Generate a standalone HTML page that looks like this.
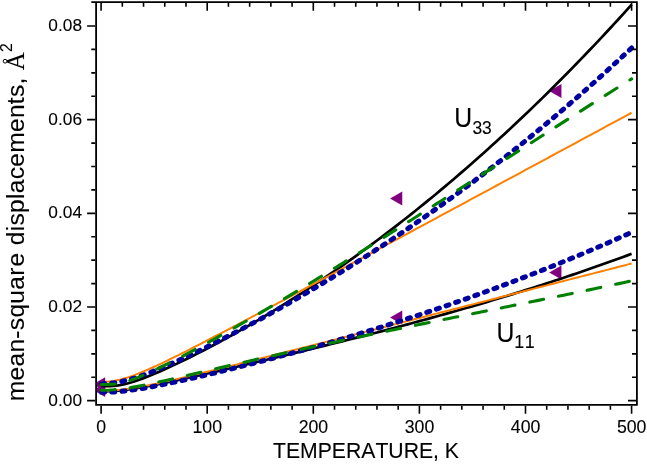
<!DOCTYPE html>
<html><head><meta charset="utf-8"><title>chart</title>
<style>html,body{margin:0;padding:0;background:#fff}svg{display:block;will-change:transform}text{font-kerning:none}</style></head>
<body>
<svg width="647" height="464" viewBox="0 0 647 464">
<rect width="647" height="464" fill="#fff"/>
<defs><clipPath id="c"><rect x="96.1" y="2.2" width="540.8" height="402.7"/></clipPath></defs>
<g clip-path="url(#c)" fill="none">
<path d="M93.00 384.26 L105.20 377.26 L105.20 391.26Z" fill="#800080"/>
<path d="M93.00 390.11 L105.20 383.11 L105.20 397.11Z" fill="#800080"/>
<path d="M390.08 198.58 L402.28 191.58 L402.28 205.58Z" fill="#800080"/>
<path d="M390.08 317.48 L402.28 310.48 L402.28 324.48Z" fill="#800080"/>
<path d="M549.23 91.10 L561.43 84.10 L561.43 98.10Z" fill="#800080"/>
<path d="M549.23 272.52 L561.43 265.52 L561.43 279.52Z" fill="#800080"/>
<path d="M101.10 386.09 L105.34 386.08 L109.59 386.04 L113.83 385.88 L118.08 385.45 L122.32 384.72 L126.56 383.73 L130.81 382.54 L135.05 381.19 L139.30 379.71 L143.54 378.14 L147.78 376.48 L152.03 374.76 L156.27 372.97 L160.52 371.14 L164.76 369.25 L169.00 367.33 L173.25 365.36 L177.49 363.37 L181.74 361.33 L185.98 359.27 L190.22 357.18 L194.47 355.05 L198.71 352.90 L202.96 350.72 L207.20 348.51 L211.44 346.28 L215.69 344.02 L219.93 341.74 L224.18 339.43 L228.42 337.10 L232.66 334.74 L236.91 332.36 L241.15 329.95 L245.40 327.52 L249.64 325.07 L253.88 322.59 L258.13 320.09 L262.37 317.56 L266.62 315.02 L270.86 312.44 L275.10 309.85 L279.35 307.23 L283.59 304.59 L287.84 301.92 L292.08 299.23 L296.32 296.52 L300.57 293.78 L304.81 291.02 L309.06 288.24 L313.30 285.43 L317.54 282.60 L321.79 279.75 L326.03 276.87 L330.28 273.97 L334.52 271.05 L338.76 268.10 L343.01 265.13 L347.25 262.13 L351.50 259.12 L355.74 256.07 L359.98 253.01 L364.23 249.91 L368.47 246.80 L372.72 243.66 L376.96 240.50 L381.20 237.31 L385.45 234.10 L389.69 230.87 L393.94 227.61 L398.18 224.33 L402.42 221.02 L406.67 217.69 L410.91 214.33 L415.16 210.95 L419.40 207.54 L423.64 204.11 L427.89 200.66 L432.13 197.18 L436.38 193.67 L440.62 190.14 L444.86 186.59 L449.11 183.01 L453.35 179.41 L457.60 175.78 L461.84 172.13 L466.08 168.45 L470.33 164.74 L474.57 161.01 L478.82 157.26 L483.06 153.48 L487.30 149.67 L491.55 145.84 L495.79 141.98 L500.04 138.10 L504.28 134.19 L508.52 130.26 L512.77 126.30 L517.01 122.31 L521.26 118.30 L525.50 114.27 L529.74 110.20 L533.99 106.11 L538.23 102.00 L542.48 97.86 L546.72 93.69 L550.96 89.49 L555.21 85.27 L559.45 81.03 L563.70 76.75 L567.94 72.45 L572.18 68.13 L576.43 63.77 L580.67 59.39 L584.92 54.98 L589.16 50.55 L593.40 46.09 L597.65 41.60 L601.89 37.09 L606.14 32.54 L610.38 27.98 L614.62 23.38 L618.87 18.76 L623.11 14.10 L627.36 9.43 L631.60 4.72" stroke="#000" stroke-width="2.7" />
<path d="M101.10 391.38 L105.34 391.33 L109.59 391.19 L113.83 390.95 L118.08 390.62 L122.32 390.20 L126.56 389.69 L130.81 389.11 L135.05 388.46 L139.30 387.76 L143.54 387.02 L147.78 386.23 L152.03 385.42 L156.27 384.59 L160.52 383.73 L164.76 382.86 L169.00 381.97 L173.25 381.07 L177.49 380.15 L181.74 379.23 L185.98 378.30 L190.22 377.36 L194.47 376.42 L198.71 375.47 L202.96 374.51 L207.20 373.55 L211.44 372.59 L215.69 371.62 L219.93 370.65 L224.18 369.68 L228.42 368.70 L232.66 367.72 L236.91 366.73 L241.15 365.74 L245.40 364.75 L249.64 363.76 L253.88 362.76 L258.13 361.76 L262.37 360.76 L266.62 359.76 L270.86 358.75 L275.10 357.74 L279.35 356.72 L283.59 355.71 L287.84 354.69 L292.08 353.67 L296.32 352.64 L300.57 351.61 L304.81 350.58 L309.06 349.54 L313.30 348.50 L317.54 347.46 L321.79 346.42 L326.03 345.37 L330.28 344.31 L334.52 343.25 L338.76 342.19 L343.01 341.13 L347.25 340.06 L351.50 338.99 L355.74 337.91 L359.98 336.83 L364.23 335.74 L368.47 334.65 L372.72 333.55 L376.96 332.45 L381.20 331.35 L385.45 330.24 L389.69 329.12 L393.94 328.00 L398.18 326.88 L402.42 325.74 L406.67 324.61 L410.91 323.47 L415.16 322.32 L419.40 321.16 L423.64 320.01 L427.89 318.84 L432.13 317.67 L436.38 316.49 L440.62 315.31 L444.86 314.12 L449.11 312.92 L453.35 311.72 L457.60 310.51 L461.84 309.29 L466.08 308.07 L470.33 306.83 L474.57 305.60 L478.82 304.35 L483.06 303.10 L487.30 301.84 L491.55 300.57 L495.79 299.30 L500.04 298.01 L504.28 296.72 L508.52 295.42 L512.77 294.12 L517.01 292.80 L521.26 291.48 L525.50 290.14 L529.74 288.80 L533.99 287.45 L538.23 286.10 L542.48 284.73 L546.72 283.35 L550.96 281.97 L555.21 280.57 L559.45 279.17 L563.70 277.76 L567.94 276.34 L572.18 274.90 L576.43 273.46 L580.67 272.01 L584.92 270.55 L589.16 269.08 L593.40 267.59 L597.65 266.10 L601.89 264.60 L606.14 263.09 L610.38 261.56 L614.62 260.03 L618.87 258.48 L623.11 256.93 L627.36 255.36 L631.60 253.78" stroke="#000" stroke-width="2.7" />
<path d="M101.10 381.96 L105.34 381.85 L109.59 381.50 L113.83 380.91 L118.08 380.10 L122.32 379.06 L126.56 377.83 L130.81 376.43 L135.05 374.89 L139.30 373.23 L143.54 371.48 L147.78 369.65 L152.03 367.76 L156.27 365.81 L160.52 363.82 L164.76 361.80 L169.00 359.75 L173.25 357.66 L177.49 355.56 L181.74 353.44 L185.98 351.30 L190.22 349.15 L194.47 346.98 L198.71 344.80 L202.96 342.62 L207.20 340.42 L211.44 338.22 L215.69 336.01 L219.93 333.79 L224.18 331.57 L228.42 329.34 L232.66 327.11 L236.91 324.87 L241.15 322.63 L245.40 320.39 L249.64 318.14 L253.88 315.90 L258.13 313.64 L262.37 311.39 L266.62 309.13 L270.86 306.87 L275.10 304.61 L279.35 302.35 L283.59 300.09 L287.84 297.82 L292.08 295.56 L296.32 293.29 L300.57 291.02 L304.81 288.75 L309.06 286.47 L313.30 284.20 L317.54 281.93 L321.79 279.65 L326.03 277.38 L330.28 275.10 L334.52 272.82 L338.76 270.55 L343.01 268.27 L347.25 265.99 L351.50 263.71 L355.74 261.43 L359.98 259.15 L364.23 256.87 L368.47 254.58 L372.72 252.30 L376.96 250.02 L381.20 247.74 L385.45 245.45 L389.69 243.17 L393.94 240.89 L398.18 238.60 L402.42 236.32 L406.67 234.03 L410.91 231.75 L415.16 229.46 L419.40 227.18 L423.64 224.89 L427.89 222.60 L432.13 220.32 L436.38 218.03 L440.62 215.74 L444.86 213.46 L449.11 211.17 L453.35 208.88 L457.60 206.59 L461.84 204.31 L466.08 202.02 L470.33 199.73 L474.57 197.44 L478.82 195.16 L483.06 192.87 L487.30 190.58 L491.55 188.29 L495.79 186.00 L500.04 183.71 L504.28 181.43 L508.52 179.14 L512.77 176.85 L517.01 174.56 L521.26 172.27 L525.50 169.98 L529.74 167.69 L533.99 165.40 L538.23 163.12 L542.48 160.83 L546.72 158.54 L550.96 156.25 L555.21 153.96 L559.45 151.67 L563.70 149.38 L567.94 147.09 L572.18 144.80 L576.43 142.51 L580.67 140.22 L584.92 137.94 L589.16 135.65 L593.40 133.36 L597.65 131.07 L601.89 128.78 L606.14 126.49 L610.38 124.20 L614.62 121.91 L618.87 119.62 L623.11 117.33 L627.36 115.04 L631.60 112.75" stroke="#ff8000" stroke-width="2.0" />
<path d="M101.10 390.93 L105.34 390.88 L109.59 390.72 L113.83 390.47 L118.08 390.11 L122.32 389.66 L126.56 389.12 L130.81 388.49 L135.05 387.80 L139.30 387.05 L143.54 386.25 L147.78 385.42 L152.03 384.55 L156.27 383.65 L160.52 382.73 L164.76 381.78 L169.00 380.83 L173.25 379.85 L177.49 378.87 L181.74 377.87 L185.98 376.87 L190.22 375.86 L194.47 374.84 L198.71 373.81 L202.96 372.78 L207.20 371.75 L211.44 370.71 L215.69 369.66 L219.93 368.62 L224.18 367.57 L228.42 366.51 L232.66 365.46 L236.91 364.40 L241.15 363.34 L245.40 362.28 L249.64 361.21 L253.88 360.15 L258.13 359.08 L262.37 358.01 L266.62 356.94 L270.86 355.87 L275.10 354.80 L279.35 353.72 L283.59 352.65 L287.84 351.57 L292.08 350.50 L296.32 349.42 L300.57 348.34 L304.81 347.27 L309.06 346.19 L313.30 345.11 L317.54 344.03 L321.79 342.95 L326.03 341.87 L330.28 340.79 L334.52 339.70 L338.76 338.62 L343.01 337.54 L347.25 336.46 L351.50 335.37 L355.74 334.29 L359.98 333.21 L364.23 332.12 L368.47 331.04 L372.72 329.95 L376.96 328.87 L381.20 327.78 L385.45 326.70 L389.69 325.61 L393.94 324.52 L398.18 323.44 L402.42 322.35 L406.67 321.27 L410.91 320.18 L415.16 319.09 L419.40 318.00 L423.64 316.92 L427.89 315.83 L432.13 314.74 L436.38 313.65 L440.62 312.57 L444.86 311.48 L449.11 310.39 L453.35 309.30 L457.60 308.22 L461.84 307.13 L466.08 306.04 L470.33 304.95 L474.57 303.86 L478.82 302.77 L483.06 301.69 L487.30 300.60 L491.55 299.51 L495.79 298.42 L500.04 297.33 L504.28 296.24 L508.52 295.15 L512.77 294.06 L517.01 292.97 L521.26 291.89 L525.50 290.80 L529.74 289.71 L533.99 288.62 L538.23 287.53 L542.48 286.44 L546.72 285.35 L550.96 284.26 L555.21 283.17 L559.45 282.08 L563.70 280.99 L567.94 279.90 L572.18 278.81 L576.43 277.72 L580.67 276.63 L584.92 275.54 L589.16 274.45 L593.40 273.37 L597.65 272.28 L601.89 271.19 L606.14 270.10 L610.38 269.01 L614.62 267.92 L618.87 266.83 L623.11 265.74 L627.36 264.65 L631.60 263.56" stroke="#ff8000" stroke-width="2.0" />
<path d="M101.10 383.68 L105.34 383.59 L109.59 383.31 L113.83 382.84 L118.08 382.18 L122.32 381.34 L126.56 380.33 L130.81 379.17 L135.05 377.89 L139.30 376.49 L143.54 374.99 L147.78 373.41 L152.03 371.77 L156.27 370.07 L160.52 368.31 L164.76 366.51 L169.00 364.66 L173.25 362.79 L177.49 360.87 L181.74 358.93 L185.98 356.96 L190.22 354.97 L194.47 352.95 L198.71 350.90 L202.96 348.84 L207.20 346.75 L211.44 344.65 L215.69 342.52 L219.93 340.38 L224.18 338.21 L228.42 336.03 L232.66 333.83 L236.91 331.62 L241.15 329.38 L245.40 327.13 L249.64 324.87 L253.88 322.58 L258.13 320.28 L262.37 317.96 L266.62 315.63 L270.86 313.28 L275.10 310.92 L279.35 308.54 L283.59 306.14 L287.84 303.72 L292.08 301.29 L296.32 298.85 L300.57 296.38 L304.81 293.91 L309.06 291.41 L313.30 288.90 L317.54 286.37 L321.79 283.83 L326.03 281.27 L330.28 278.69 L334.52 276.10 L338.76 273.48 L343.01 270.86 L347.25 268.21 L351.50 265.55 L355.74 262.87 L359.98 260.18 L364.23 257.47 L368.47 254.74 L372.72 251.99 L376.96 249.23 L381.20 246.45 L385.45 243.65 L389.69 240.83 L393.94 238.00 L398.18 235.15 L402.42 232.28 L406.67 229.39 L410.91 226.48 L415.16 223.56 L419.40 220.62 L423.64 217.66 L427.89 214.68 L432.13 211.68 L436.38 208.66 L440.62 205.63 L444.86 202.57 L449.11 199.50 L453.35 196.41 L457.60 193.30 L461.84 190.17 L466.08 187.02 L470.33 183.85 L474.57 180.66 L478.82 177.45 L483.06 174.22 L487.30 170.97 L491.55 167.71 L495.79 164.42 L500.04 161.11 L504.28 157.78 L508.52 154.43 L512.77 151.06 L517.01 147.67 L521.26 144.26 L525.50 140.83 L529.74 137.37 L533.99 133.90 L538.23 130.40 L542.48 126.89 L546.72 123.35 L550.96 119.79 L555.21 116.21 L559.45 112.61 L563.70 108.98 L567.94 105.34 L572.18 101.67 L576.43 97.98 L580.67 94.27 L584.92 90.53 L589.16 86.78 L593.40 83.00 L597.65 79.19 L601.89 75.37 L606.14 71.52 L610.38 67.65 L614.62 63.76 L618.87 59.84 L623.11 55.90 L627.36 51.94 L631.60 47.95" stroke="#0000a0" stroke-width="5.0" stroke-dasharray="3.1 7.07" stroke-dashoffset="-0.5" stroke-linecap="round"/>
<path d="M101.10 392.36 L105.34 392.32 L109.59 392.19 L113.83 391.96 L118.08 391.65 L122.32 391.25 L126.56 390.77 L130.81 390.22 L135.05 389.60 L139.30 388.94 L143.54 388.22 L147.78 387.47 L152.03 386.68 L156.27 385.87 L160.52 385.03 L164.76 384.17 L169.00 383.29 L173.25 382.39 L177.49 381.48 L181.74 380.56 L185.98 379.62 L190.22 378.66 L194.47 377.70 L198.71 376.73 L202.96 375.74 L207.20 374.75 L211.44 373.74 L215.69 372.73 L219.93 371.71 L224.18 370.68 L228.42 369.64 L232.66 368.59 L236.91 367.54 L241.15 366.47 L245.40 365.40 L249.64 364.32 L253.88 363.24 L258.13 362.14 L262.37 361.04 L266.62 359.93 L270.86 358.82 L275.10 357.69 L279.35 356.56 L283.59 355.42 L287.84 354.27 L292.08 353.12 L296.32 351.96 L300.57 350.79 L304.81 349.61 L309.06 348.42 L313.30 347.23 L317.54 346.03 L321.79 344.82 L326.03 343.61 L330.28 342.38 L334.52 341.15 L338.76 339.91 L343.01 338.66 L347.25 337.41 L351.50 336.14 L355.74 334.87 L359.98 333.59 L364.23 332.30 L368.47 331.01 L372.72 329.70 L376.96 328.39 L381.20 327.07 L385.45 325.74 L389.69 324.40 L393.94 323.06 L398.18 321.70 L402.42 320.34 L406.67 318.96 L410.91 317.58 L415.16 316.19 L419.40 314.79 L423.64 313.39 L427.89 311.97 L432.13 310.54 L436.38 309.11 L440.62 307.67 L444.86 306.21 L449.11 304.75 L453.35 303.28 L457.60 301.80 L461.84 300.31 L466.08 298.81 L470.33 297.30 L474.57 295.78 L478.82 294.25 L483.06 292.71 L487.30 291.16 L491.55 289.61 L495.79 288.04 L500.04 286.46 L504.28 284.87 L508.52 283.27 L512.77 281.67 L517.01 280.05 L521.26 278.42 L525.50 276.78 L529.74 275.13 L533.99 273.47 L538.23 271.80 L542.48 270.12 L546.72 268.43 L550.96 266.73 L555.21 265.02 L559.45 263.30 L563.70 261.56 L567.94 259.82 L572.18 258.06 L576.43 256.29 L580.67 254.52 L584.92 252.73 L589.16 250.93 L593.40 249.12 L597.65 247.29 L601.89 245.46 L606.14 243.61 L610.38 241.76 L614.62 239.89 L618.87 238.01 L623.11 236.11 L627.36 234.21 L631.60 232.30" stroke="#0000a0" stroke-width="5.0" stroke-dasharray="3.1 7.07" stroke-dashoffset="-0.5" stroke-linecap="round"/>
<path d="M101.10 384.44 L105.34 384.44 L109.59 384.40 L113.83 384.20 L118.08 383.66 L122.32 382.77 L126.56 381.60 L130.81 380.20 L135.05 378.63 L139.30 376.93 L143.54 375.14 L147.78 373.26 L152.03 371.33 L156.27 369.33 L160.52 367.29 L164.76 365.21 L169.00 363.10 L173.25 360.95 L177.49 358.78 L181.74 356.58 L185.98 354.36 L190.22 352.12 L194.47 349.86 L198.71 347.58 L202.96 345.28 L207.20 342.97 L211.44 340.64 L215.69 338.30 L219.93 335.94 L224.18 333.56 L228.42 331.18 L232.66 328.78 L236.91 326.37 L241.15 323.95 L245.40 321.51 L249.64 319.07 L253.88 316.61 L258.13 314.14 L262.37 311.66 L266.62 309.18 L270.86 306.68 L275.10 304.17 L279.35 301.65 L283.59 299.13 L287.84 296.60 L292.08 294.05 L296.32 291.50 L300.57 288.94 L304.81 286.38 L309.06 283.80 L313.30 281.22 L317.54 278.63 L321.79 276.03 L326.03 273.43 L330.28 270.82 L334.52 268.20 L338.76 265.58 L343.01 262.95 L347.25 260.32 L351.50 257.68 L355.74 255.03 L359.98 252.38 L364.23 249.72 L368.47 247.06 L372.72 244.39 L376.96 241.72 L381.20 239.04 L385.45 236.36 L389.69 233.68 L393.94 230.99 L398.18 228.29 L402.42 225.60 L406.67 222.89 L410.91 220.19 L415.16 217.48 L419.40 214.77 L423.64 212.06 L427.89 209.34 L432.13 206.62 L436.38 203.90 L440.62 201.18 L444.86 198.45 L449.11 195.73 L453.35 193.00 L457.60 190.27 L461.84 187.53 L466.08 184.80 L470.33 182.07 L474.57 179.33 L478.82 176.59 L483.06 173.86 L487.30 171.12 L491.55 168.38 L495.79 165.64 L500.04 162.90 L504.28 160.16 L508.52 157.43 L512.77 154.69 L517.01 151.95 L521.26 149.22 L525.50 146.48 L529.74 143.75 L533.99 141.01 L538.23 138.28 L542.48 135.55 L546.72 132.83 L550.96 130.10 L555.21 127.37 L559.45 124.65 L563.70 121.93 L567.94 119.22 L572.18 116.50 L576.43 113.79 L580.67 111.08 L584.92 108.38 L589.16 105.67 L593.40 102.98 L597.65 100.28 L601.89 97.59 L606.14 94.90 L610.38 92.22 L614.62 89.54 L618.87 86.86 L623.11 84.19 L627.36 81.53 L631.60 78.87" stroke="#008000" stroke-width="3.1" stroke-dasharray="14 15.2" stroke-linecap="round"/>
<path d="M101.10 390.28 L105.34 390.23 L109.59 390.06 L113.83 389.78 L118.08 389.40 L122.32 388.90 L126.56 388.31 L130.81 387.64 L135.05 386.90 L139.30 386.10 L143.54 385.26 L147.78 384.38 L152.03 383.48 L156.27 382.55 L160.52 381.61 L164.76 380.65 L169.00 379.68 L173.25 378.70 L177.49 377.71 L181.74 376.72 L185.98 375.73 L190.22 374.74 L194.47 373.74 L198.71 372.75 L202.96 371.75 L207.20 370.76 L211.44 369.76 L215.69 368.77 L219.93 367.78 L224.18 366.79 L228.42 365.81 L232.66 364.83 L236.91 363.85 L241.15 362.87 L245.40 361.90 L249.64 360.93 L253.88 359.96 L258.13 359.00 L262.37 358.04 L266.62 357.08 L270.86 356.12 L275.10 355.17 L279.35 354.22 L283.59 353.28 L287.84 352.34 L292.08 351.40 L296.32 350.47 L300.57 349.53 L304.81 348.61 L309.06 347.68 L313.30 346.76 L317.54 345.84 L321.79 344.92 L326.03 344.01 L330.28 343.10 L334.52 342.19 L338.76 341.28 L343.01 340.38 L347.25 339.48 L351.50 338.58 L355.74 337.69 L359.98 336.80 L364.23 335.90 L368.47 335.02 L372.72 334.13 L376.96 333.25 L381.20 332.36 L385.45 331.48 L389.69 330.60 L393.94 329.73 L398.18 328.85 L402.42 327.98 L406.67 327.11 L410.91 326.24 L415.16 325.37 L419.40 324.50 L423.64 323.63 L427.89 322.77 L432.13 321.90 L436.38 321.04 L440.62 320.17 L444.86 319.31 L449.11 318.45 L453.35 317.59 L457.60 316.73 L461.84 315.87 L466.08 315.01 L470.33 314.15 L474.57 313.29 L478.82 312.43 L483.06 311.58 L487.30 310.72 L491.55 309.86 L495.79 309.00 L500.04 308.14 L504.28 307.28 L508.52 306.42 L512.77 305.56 L517.01 304.70 L521.26 303.84 L525.50 302.97 L529.74 302.11 L533.99 301.24 L538.23 300.38 L542.48 299.51 L546.72 298.64 L550.96 297.77 L555.21 296.90 L559.45 296.03 L563.70 295.16 L567.94 294.28 L572.18 293.40 L576.43 292.52 L580.67 291.64 L584.92 290.76 L589.16 289.87 L593.40 288.99 L597.65 288.10 L601.89 287.20 L606.14 286.31 L610.38 285.41 L614.62 284.51 L618.87 283.61 L623.11 282.70 L627.36 281.80 L631.60 280.89" stroke="#008000" stroke-width="3.1" stroke-dasharray="14 15.2" stroke-linecap="round"/>
</g>
<g stroke="#000" fill="none">
<path d="M96.1 1.3 V405.8 M636.9 1.3 V405.8 M91.3 2.2 H637.8 M95.2 404.9 H637.8" stroke-width="1.8"/>
<path d="M101.10 405.8 V413.8 M101.10 3.1 V10.7 M122.32 405.8 V409.7 M122.32 3.1 V6.8 M143.54 405.8 V409.7 M143.54 3.1 V6.8 M164.76 405.8 V409.7 M164.76 3.1 V6.8 M185.98 405.8 V409.7 M185.98 3.1 V6.8 M207.20 405.8 V413.8 M207.20 3.1 V10.7 M228.42 405.8 V409.7 M228.42 3.1 V6.8 M249.64 405.8 V409.7 M249.64 3.1 V6.8 M270.86 405.8 V409.7 M270.86 3.1 V6.8 M292.08 405.8 V409.7 M292.08 3.1 V6.8 M313.30 405.8 V413.8 M313.30 3.1 V10.7 M334.52 405.8 V409.7 M334.52 3.1 V6.8 M355.74 405.8 V409.7 M355.74 3.1 V6.8 M376.96 405.8 V409.7 M376.96 3.1 V6.8 M398.18 405.8 V409.7 M398.18 3.1 V6.8 M419.40 405.8 V413.8 M419.40 3.1 V10.7 M440.62 405.8 V409.7 M440.62 3.1 V6.8 M461.84 405.8 V409.7 M461.84 3.1 V6.8 M483.06 405.8 V409.7 M483.06 3.1 V6.8 M504.28 405.8 V409.7 M504.28 3.1 V6.8 M525.50 405.8 V413.8 M525.50 3.1 V10.7 M546.72 405.8 V409.7 M546.72 3.1 V6.8 M567.94 405.8 V409.7 M567.94 3.1 V6.8 M589.16 405.8 V409.7 M589.16 3.1 V6.8 M610.38 405.8 V409.7 M610.38 3.1 V6.8 M631.60 405.8 V413.8 M631.60 3.1 V10.7" stroke-width="1.6"/>
<path d="M87.1 400.65 H95.2 M628 400.65 H636.0 M91.3 377.23 H95.2 M632 377.23 H636.0 M91.3 353.82 H95.2 M632 353.82 H636.0 M91.3 330.40 H95.2 M632 330.40 H636.0 M87.1 306.99 H95.2 M628 306.99 H636.0 M91.3 283.57 H95.2 M632 283.57 H636.0 M91.3 260.16 H95.2 M632 260.16 H636.0 M91.3 236.74 H95.2 M632 236.74 H636.0 M87.1 213.33 H95.2 M628 213.33 H636.0 M91.3 189.91 H95.2 M632 189.91 H636.0 M91.3 166.50 H95.2 M632 166.50 H636.0 M91.3 143.08 H95.2 M632 143.08 H636.0 M87.1 119.67 H95.2 M628 119.67 H636.0 M91.3 96.25 H95.2 M632 96.25 H636.0 M91.3 72.84 H95.2 M632 72.84 H636.0 M91.3 49.43 H95.2 M632 49.43 H636.0 M87.1 26.01 H95.2 M628 26.01 H636.0" stroke-width="1.7"/>
</g>
<g font-family="'Liberation Sans', sans-serif" fill="#000" stroke="#000" stroke-width="0.1">
<text x="82.0" y="405.65" font-size="17.3" text-anchor="end">0.00</text>
<text x="82.0" y="311.99" font-size="17.3" text-anchor="end">0.02</text>
<text x="82.0" y="218.33" font-size="17.3" text-anchor="end">0.04</text>
<text x="82.0" y="124.67" font-size="17.3" text-anchor="end">0.06</text>
<text x="82.0" y="31.01" font-size="17.3" text-anchor="end">0.08</text>
<text x="101.20" y="432.6" font-size="17.7" text-anchor="middle">0</text>
<text x="207.30" y="432.6" font-size="17.7" text-anchor="middle">100</text>
<text x="313.40" y="432.6" font-size="17.7" text-anchor="middle">200</text>
<text x="419.50" y="432.6" font-size="17.7" text-anchor="middle">300</text>
<text x="525.60" y="432.6" font-size="17.7" text-anchor="middle">400</text>
<text x="631.70" y="432.6" font-size="17.7" text-anchor="middle">500</text>
<text x="273.0" y="458.1" font-size="21.2">TEMPERATURE, K</text>
<text transform="translate(23.8 401.3) rotate(-90)" font-size="24.6" letter-spacing="0.28">mean-squar<tspan dx="0.9">e</tspan> displacements,</text>
<text transform="translate(23.5 70.2) rotate(-90)" font-size="25" font-family="'Liberation Serif', serif">A</text>
<circle cx="5.05" cy="61.2" r="1.9" fill="none" stroke="#000" stroke-width="1"/>
<text transform="translate(12.3 52.0) rotate(-90)" font-size="15.9">2</text>
<text transform="translate(454.2 126.8) scale(0.94 1.03)" font-size="26.4">U</text>
<text transform="translate(472.4 133.6) scale(0.96 1)" font-size="18.2">33</text>
<text transform="translate(496.4 341.6) scale(0.94 1.03)" font-size="26.4">U</text>
<text transform="translate(514.3 348.2)" font-size="17.9" letter-spacing="0.4">11</text>
</g>
</svg>
</body></html>
